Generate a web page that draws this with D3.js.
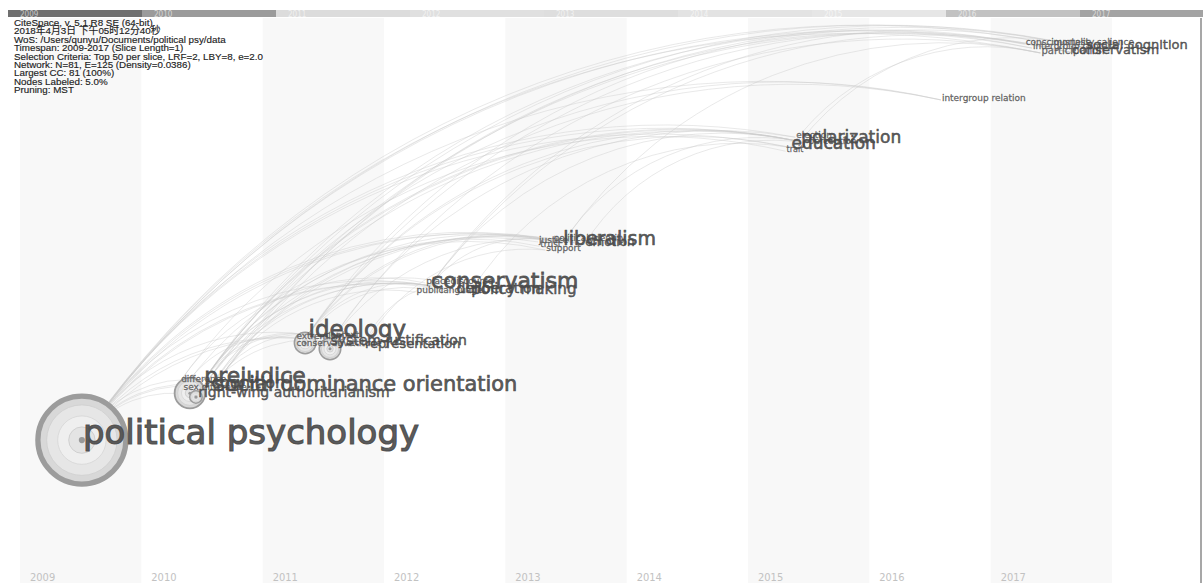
<!DOCTYPE html>
<html>
<head>
<meta charset="utf-8">
<script src="https://cdn.jsdelivr.net/npm/d3@7"></script>
<style>
  body { margin: 0; background: #fff; }
  svg { display: block; }
</style>
</head>
<body>
<svg id="chart" width="1203" height="583"></svg>
<script>

// time slices
const years = [2009, 2010, 2011, 2012, 2013, 2014, 2015, 2016, 2017];

const infoLines = [
  "CiteSpace, v. 5.1.R8 SE (64-bit)",
  "2018年4月3日 下午05时12分40秒",
  "WoS: /Users/qunyu/Documents/political psy/data",
  "Timespan: 2009-2017 (Slice Length=1)",
  "Selection Criteria: Top 50 per slice, LRF=2, LBY=8, e=2.0",
  "Network: N=81, E=125 (Density=0.0386)",
  "Largest CC: 81 (100%)",
  "Nodes Labeled: 5.0%",
  "Pruning: MST"
];

// keyword, slice, place in slice (0-1), layout level (0-100), label weight, frequency
const keywords = [
  ["political psychology", 2009, 0.51, 22.2, 100, 100],
  ["difference", 2010, 0.32, 33.1, 1.8, 0.5],
  ["sex difference", 2010, 0.34, 31.6, 1.8, 0.5],
  ["right-wing authoritarianism", 2010, 0.46, 30.4, 9.5, 0.5],
  ["prejudice", 2010, 0.51, 33.2, 34, 0.5],
  ["cognition", 2010, 0.57, 32.1, 14, 0.5],
  ["social dominance orientation", 2010, 0.59, 31.7, 30, 0.5],
  ["extremism", 2011, 0.27, 41.1, 1.8, 0.5],
  ["conservative", 2011, 0.27, 39.8, 1.8, 0.5],
  ["context", 2011, 0.51, 41.3, 1.8, 0.5],
  ["attitude", 2011, 0.68, 39.8, 1.8, 0.5],
  ["ideology", 2011, 0.37, 41.7, 38, 0.5],
  ["system justification", 2011, 0.55, 40.1, 9.5, 0.5],
  ["representation", 2011, 0.835, 39.5, 7.5, 0.5],
  ["place", 2012, 0.34, 51.3, 1.8, 0.5],
  ["discourse", 2012, 0.54, 51.3, 1.8, 0.5],
  ["public", 2012, 0.26, 49.6, 1.8, 0.5],
  ["language", 2012, 0.46, 49.6, 1.8, 0.5],
  ["conservatism", 2012, 0.38, 50.8, 34, 0.5],
  ["deliberation", 2012, 0.59, 49.7, 9.5, 0.5],
  ["policy making", 2012, 0.71, 49.5, 12, 0.5],
  ["justice", 2013, 0.27, 58.9, 1.8, 0.5],
  ["trust", 2013, 0.28, 58.1, 1.8, 0.5],
  ["support", 2013, 0.33, 57.4, 1.8, 0.5],
  ["political identity", 2013, 0.39, 59.2, 1.8, 0.5],
  ["liberalism", 2013, 0.47, 58.7, 23, 0.5],
  ["emotion", 2013, 0.65, 58.4, 5.7, 0.5],
  ["election", 2015, 0.39, 78.3, 1.8, 0.5],
  ["perception", 2015, 0.49, 77.2, 1.8, 0.5],
  ["trait", 2015, 0.31, 75.7, 1, 0.5],
  ["education", 2015, 0.35, 76.4, 17, 0.5],
  ["polarization", 2015, 0.43, 77.5, 17, 0.5],
  ["intergroup relation", 2016, 0.59, 85.2, 1.8, 0.5],
  ["consciousness", 2017, 0.28, 95.5, 1.8, 0.5],
  ["mortality salience", 2017, 0.51, 95.5, 1.8, 0.5],
  ["intergroup contact", 2017, 0.34, 94.8, 1.8, 0.5],
  ["participation", 2017, 0.41, 93.9, 2.9, 0.5],
  ["conservatism", 2017, 0.66, 94.0, 7.5, 0.5],
  ["social cognition", 2017, 0.78, 94.9, 7.5, 0.5]
];

// unlabeled nodes: slice, place in slice, layout level, frequency
const hubs = [
  [2010, 0.40, 30.9, 12],
  [2010, 0.45, 30.2, 2],
  [2011, 0.35, 40.2, 6],
  [2011, 0.555, 39.1, 6]
];

// co-occurrence links (earlier -> later)
const links = [
  ["political psychology@2009", "prejudice@2010"],
  ["political psychology@2009", "cognition@2010"],
  ["political psychology@2009", "right-wing authoritarianism@2010"],
  ["political psychology@2009", "social dominance orientation@2010"],
  ["political psychology@2009", "ideology@2011"],
  ["political psychology@2009", "system justification@2011"],
  ["political psychology@2009", "representation@2011"],
  ["political psychology@2009", "conservatism@2012"],
  ["political psychology@2009", "policy making@2012"],
  ["political psychology@2009", "deliberation@2012"],
  ["political psychology@2009", "liberalism@2013"],
  ["political psychology@2009", "emotion@2013"],
  ["political psychology@2009", "political identity@2013"],
  ["political psychology@2009", "polarization@2015"],
  ["political psychology@2009", "education@2015"],
  ["political psychology@2009", "election@2015"],
  ["political psychology@2009", "intergroup relation@2016"],
  ["political psychology@2009", "social cognition@2017"],
  ["political psychology@2009", "conservatism@2017"],
  ["political psychology@2009", "mortality salience@2017"],
  ["political psychology@2009", "participation@2017"],
  ["prejudice@2010", "ideology@2011"],
  ["prejudice@2010", "context@2011"],
  ["prejudice@2010", "conservatism@2012"],
  ["prejudice@2010", "discourse@2012"],
  ["prejudice@2010", "liberalism@2013"],
  ["prejudice@2010", "trust@2013"],
  ["prejudice@2010", "polarization@2015"],
  ["prejudice@2010", "perception@2015"],
  ["prejudice@2010", "social cognition@2017"],
  ["prejudice@2010", "intergroup contact@2017"],
  ["prejudice@2010", "intergroup relation@2016"],
  ["cognition@2010", "attitude@2011"],
  ["cognition@2010", "conservatism@2012"],
  ["cognition@2010", "emotion@2013"],
  ["cognition@2010", "social cognition@2017"],
  ["right-wing authoritarianism@2010", "conservatism@2012"],
  ["right-wing authoritarianism@2010", "liberalism@2013"],
  ["right-wing authoritarianism@2010", "polarization@2015"],
  ["right-wing authoritarianism@2010", "conservatism@2017"],
  ["social dominance orientation@2010", "ideology@2011"],
  ["social dominance orientation@2010", "public@2012"],
  ["social dominance orientation@2010", "justice@2013"],
  ["social dominance orientation@2010", "intergroup relation@2016"],
  ["social dominance orientation@2010", "intergroup contact@2017"],
  ["sex difference@2010", "extremism@2011"],
  ["sex difference@2010", "support@2013"],
  ["difference@2010", "place@2012"],
  ["difference@2010", "trait@2015"],
  ["ideology@2011", "conservatism@2012"],
  ["ideology@2011", "language@2012"],
  ["ideology@2011", "liberalism@2013"],
  ["ideology@2011", "political identity@2013"],
  ["ideology@2011", "polarization@2015"],
  ["ideology@2011", "education@2015"],
  ["ideology@2011", "conservatism@2017"],
  ["ideology@2011", "consciousness@2017"],
  ["system justification@2011", "emotion@2013"],
  ["system justification@2011", "election@2015"],
  ["system justification@2011", "participation@2017"],
  ["representation@2011", "discourse@2012"],
  ["representation@2011", "support@2013"],
  ["conservatism@2012", "liberalism@2013"],
  ["conservatism@2012", "polarization@2015"],
  ["conservatism@2012", "conservatism@2017"],
  ["conservatism@2012", "mortality salience@2017"],
  ["policy making@2012", "education@2015"],
  ["liberalism@2013", "polarization@2015"],
  ["liberalism@2013", "participation@2017"],
  ["emotion@2013", "perception@2015"],
  ["polarization@2015", "social cognition@2017"],
  ["education@2015", "participation@2017"]
];

const width = 1203, height = 583;
const svg = d3.select("#chart");

// slices below, header bar above (the header is on its own, wider grid)
const x = d3.scaleBand().domain(years).range([20, 1112]);
const xBar = d3.scaleBand().domain(years).range([8, 8 + 134 * years.length]);
const y = d3.scaleLinear().domain([0, 100]).range([560, 20]);
const fontSize = d3.scalePow().exponent(0.5).domain([1, 100]).range([8, 34]);
const radius = d3.scaleSqrt().domain([0, 100]).range([0, 44]);

// slice stripes
svg.append("g").selectAll("rect")
  .data(years.filter((d, i) => i % 2 == 0))
  .enter().append("rect")
    .attr("x", d => x(d))
    .attr("y", 18)
    .attr("width", x.bandwidth())
    .attr("height", height - 18)
    .attr("fill", "#f8f8f8");

// header bar
const barColors = ["#6f6f6f", "#9b9b9b", "#dcdcdc", "#e0e0e0", "#dedede", "#e3e3e3", "#e6e6e6", "#c2c2c2", "#a3a3a3"];
const bar = svg.append("g");
bar.selectAll("rect")
  .data(years)
  .enter().append("rect")
    .attr("x", d => xBar(d))
    .attr("y", 10)
    .attr("width", xBar.bandwidth())
    .attr("height", 7)
    .attr("fill", (d, i) => barColors[i]);
bar.selectAll("text")
  .data(years)
  .enter().append("text")
    .attr("x", d => xBar(d) + 12)
    .attr("y", 16.5)
    .attr("font-family", "'Liberation Sans Narrow', 'DejaVu Sans Condensed', sans-serif")
    .attr("font-size", 8)
    .attr("fill", "#fff")
    .attr("fill-opacity", 0.6)
    .text(d => d);

// bottom slice labels
svg.append("g").selectAll("text")
  .data(years)
  .enter().append("text")
    .attr("x", d => x(d) + 10)
    .attr("y", 581)
    .attr("font-family", "'Liberation Sans Narrow', 'DejaVu Sans Condensed', sans-serif")
    .attr("font-size", 11)
    .attr("fill", "#c2c2c2")
    .text(d => d);

// right frame line
svg.append("line")
  .attr("x1", 1201).attr("x2", 1201)
  .attr("y1", 18).attr("y2", height)
  .attr("stroke", "#8a8a8a")
  .attr("stroke-width", 1.5);

// nodes
const nodes = keywords.map(k => ({
  id: k[0] + "@" + k[1],
  label: k[0],
  x: x(k[1]) + k[2] * x.bandwidth(),
  y: y(k[3]),
  weight: k[4],
  freq: k[5]
}));
const byId = new Map(nodes.map(n => [n.id, n]));

const hubNodes = hubs.map(h => ({
  x: x(h[0]) + h[1] * x.bandwidth(),
  y: y(h[2]),
  freq: h[3]
}));

// links as arcs bending up
function arcPath(a, b) {
  const dx = b.x - a.x, dy = b.y - a.y;
  const r = Math.sqrt(dx * dx + dy * dy) * 0.9;
  return "M" + a.x + "," + a.y + "A" + r + "," + r + " 0 0 1 " + b.x + "," + b.y;
}

svg.append("g")
  .attr("fill", "none")
  .attr("stroke", "#cacaca")
  .attr("stroke-width", 0.7)
  .attr("stroke-opacity", 0.6)
  .selectAll("path")
  .data(links)
  .enter().append("path")
    .attr("d", l => arcPath(byId.get(l[0]), byId.get(l[1])));

// tree rings
const ringNodes = hubNodes.concat(nodes.filter(n => n.freq >= 2));
const rings = svg.append("g").selectAll("g")
  .data(ringNodes)
  .enter().append("g")
    .attr("transform", d => "translate(" + d.x + "," + d.y + ")");

rings.append("circle")
  .attr("r", d => radius(d.freq))
  .attr("fill", "#d8d8d8")
  .attr("stroke", "#9c9c9c")
  .attr("stroke-width", d => Math.max(1.5, radius(d.freq) * 0.12));
rings.append("circle")
  .attr("r", d => radius(d.freq) * 0.8)
  .attr("fill", "#e6e6e6")
  .attr("stroke", "#cdcdcd")
  .attr("stroke-width", 0.7);
rings.append("circle")
  .attr("r", d => radius(d.freq) * 0.55)
  .attr("fill", "#efefef")
  .attr("stroke", "#d2d2d2")
  .attr("stroke-width", 0.7);
rings.append("circle")
  .attr("r", d => radius(d.freq) * 0.3)
  .attr("fill", "#e4e4e4")
  .attr("stroke", "#c6c6c6")
  .attr("stroke-width", 0.7);
rings.append("circle")
  .attr("r", d => Math.max(1.5, radius(d.freq) * 0.07))
  .attr("fill", "#999");

// labels, small first
svg.append("g")
  .attr("font-family", "'DejaVu Sans', sans-serif")
  .selectAll("text")
  .data(nodes.slice().sort((a, b) => a.weight - b.weight))
  .enter().append("text")
    .attr("x", d => d.x + 1)
    .attr("y", d => d.y + fontSize(d.weight) * 0.1)
    .attr("font-size", d => fontSize(d.weight))
    .attr("fill", d => d.weight > 5 ? "#4c4c4c" : "#606060")
    .attr("stroke", d => d.weight > 5 ? "#4c4c4c" : "#606060")
    .attr("stroke-width", d => fontSize(d.weight) * 0.035)
    .attr("fill-opacity", 0.92)
    .attr("stroke-opacity", 0.92)
    .text(d => d.label);

// info block
svg.append("g")
  .attr("font-family", "'Liberation Sans', 'Noto Sans CJK SC', sans-serif")
  .attr("font-size", 9.8)
  .attr("fill", "#222")
  .attr("stroke", "#222")
  .attr("stroke-width", 0.15)
  .selectAll("text")
  .data(infoLines)
  .enter().append("text")
    .attr("x", 14)
    .attr("y", (d, i) => 26 + i * 8.4)
    .text(d => d);

</script>
</body>
</html>
